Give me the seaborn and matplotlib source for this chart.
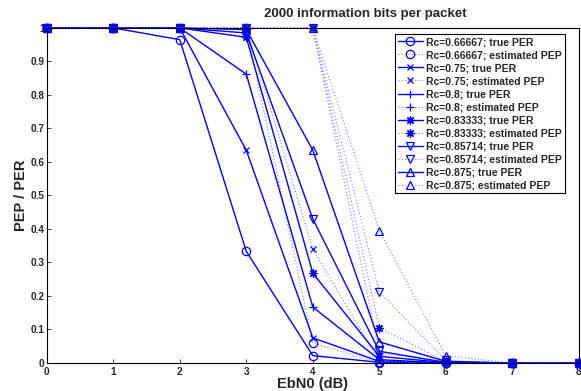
import matplotlib
matplotlib.use("Agg")
import matplotlib.pyplot as plt
import seaborn as sns
import pandas as pd

# EbN0 grid (dB)
EBN0 = [0, 1, 2, 3, 4, 5, 6, 7, 8]

# code rates and the marker used for each in the original figure
RATES = ['0.66667', '0.75', '0.8', '0.83333', '0.85714', '0.875']
MARKERS = ['o', 'x', '+', (8, 2, 0), 'v', '^']
MSIZES = [6, 5, 6, 6, 6, 6]

# true packet error rate
TRUE_PER = {
    '0.66667': [1, 1, 0.965, 0.333, 0.022, 0.002, 0.0, 0.0, 0.0],
    '0.75':    [1, 1, 1.0, 0.635, 0.075, 0.005, 0.0, 0.0, 0.0],
    '0.8':     [1, 1, 1.0, 0.862, 0.167, 0.010, 0.0, 0.0, 0.0],
    '0.83333': [1, 1, 1.0, 0.972, 0.268, 0.020, 0.001, 0.0, 0.0],
    '0.85714': [1, 1, 1.0, 0.985, 0.430, 0.035, 0.002, 0.0, 0.0],
    '0.875':   [1, 1, 1.0, 0.995, 0.635, 0.063, 0.005, 0.0, 0.0],
}

# estimated packet error probability
EST_PEP = {
    '0.66667': [1, 1, 1, 1, 0.060, 0.001, 0.0, 0.0, 0.0],
    '0.75':    [1, 1, 1, 1, 0.340, 0.005, 0.0, 0.0, 0.0],
    '0.8':     [1, 1, 1, 1, 1.0, 0.030, 0.002, 0.0, 0.0],
    '0.83333': [1, 1, 1, 1, 1.0, 0.105, 0.004, 0.0, 0.0],
    '0.85714': [1, 1, 1, 1, 1.0, 0.212, 0.008, 0.0, 0.0],
    '0.875':   [1, 1, 1, 1, 1.0, 0.395, 0.022, 0.0, 0.0],
}

sns.set_style("ticks", {"xtick.direction": "in", "ytick.direction": "in"})
plt.rcParams['font.family'] = ['Liberation Sans', 'DejaVu Sans']
plt.rcParams['font.weight'] = 'bold'

fig = plt.figure(figsize=(5.81, 3.91), dpi=100)
ax = fig.add_axes([0.0804, 0.0716, 0.916, 0.857])

for rc, mk, ms in zip(RATES, MARKERS, MSIZES):
    df_true = pd.DataFrame({'ebn0': EBN0, 'val': TRUE_PER[rc]})
    df_est = pd.DataFrame({'ebn0': EBN0, 'val': EST_PEP[rc]})
    sns.lineplot(data=df_true, x='ebn0', y='val', ax=ax, color='blue',
                 linestyle='-', linewidth=1.0, marker=mk, markersize=ms,
                 markerfacecolor='none', markeredgecolor='blue', markeredgewidth=0.9,
                 clip_on=False, label=f'Rc={rc}; true PER')
    sns.lineplot(data=df_est, x='ebn0', y='val', ax=ax, color='#7a7aff',
                 linestyle=(0, (1, 2)), linewidth=0.8, marker=mk, markersize=ms,
                 markerfacecolor='none', markeredgecolor='blue', markeredgewidth=0.9,
                 clip_on=False, label=f'Rc={rc}; estimated PEP')

ax.set_xlim(0, 8)
ax.set_ylim(0, 1)
ax.set_xticks(EBN0)
ax.set_xticklabels([str(v) for v in EBN0], fontweight='bold', fontsize=7.2)
yt = [i / 10 for i in range(11)]
ax.set_yticks(yt)
ax.set_yticklabels(['0'] + [f'{v:.1f}' for v in yt[1:-1]] + ['1'],
                   fontweight='bold', fontsize=7.2)
ax.tick_params(axis='x', length=3, width=0.6, pad=3)
ax.tick_params(axis='y', length=3, width=0.6, pad=1.5)
for sp in ax.spines.values():
    sp.set_linewidth(0.8)
    sp.set_color('black')

ax.set_xlabel('EbN0 (dB)', fontsize=10.5, fontweight='bold', labelpad=0)
ax.set_ylabel('PEP / PER', fontsize=10.5, fontweight='bold', labelpad=2)
ax.set_title('2000 information bits per packet', fontsize=9.5, fontweight='bold',
             x=0.598, pad=8)

leg = ax.legend(loc='upper right', bbox_to_anchor=(0.974, 0.982),
                prop={'weight': 'bold', 'size': 7.5}, frameon=True, fancybox=False,
                edgecolor='black', framealpha=1, labelspacing=0.29, handlelength=2.4,
                handletextpad=0.3, borderpad=0.3, borderaxespad=0)
leg.get_frame().set_linewidth(0.8)

fig.savefig('out.png', dpi=100)
